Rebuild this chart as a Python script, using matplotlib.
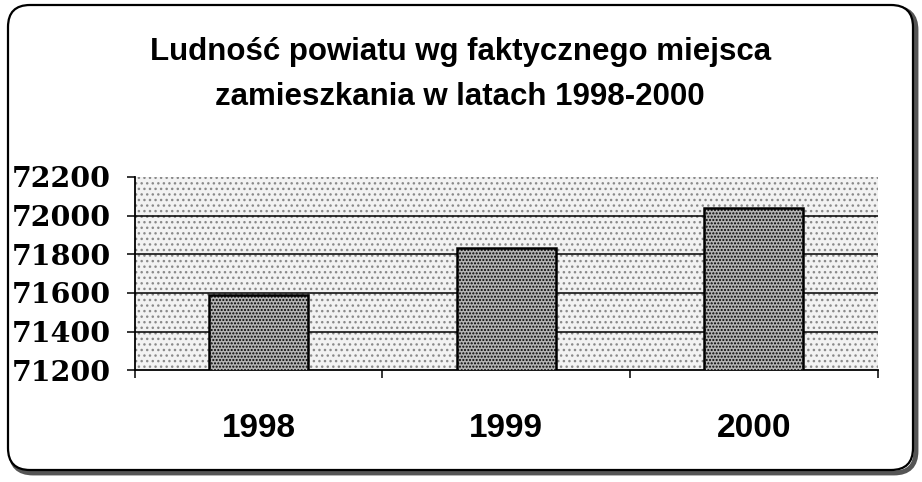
import matplotlib
matplotlib.use("Agg")
import matplotlib.pyplot as plt
from matplotlib.patches import FancyBboxPatch, Rectangle
import numpy as np

# data
years = ['1998', '1999', '2000']
population = [71590, 71830, 72040]
y_ticks = [71200, 71400, 71600, 71800, 72000, 72200]
title = 'Ludność powiatu wg faktycznego miejsca\nzamieszkania w latach 1998-2000'

plt.rcParams['hatch.linewidth'] = 1.0

fig = plt.figure(figsize=(9.22, 4.82), dpi=100)
fig.patch.set_facecolor('white')

# rounded frame around the whole chart (pixel coords)
bg = fig.add_axes([0, 0, 1, 1])
bg.set_xlim(0, 922)
bg.set_ylim(482, 0)
bg.axis('off')
shadow = FancyBboxPatch((11, 8), 905, 465, boxstyle='round,pad=0,rounding_size=22',
                        facecolor='none', edgecolor='#555555', linewidth=3.5)
frame = FancyBboxPatch((8, 5), 905, 465, boxstyle='round,pad=0,rounding_size=22',
                       facecolor='white', edgecolor='black', linewidth=1.6)
bg.add_patch(shadow)
bg.add_patch(frame)

fig.text(0.499, 0.845, title, ha='center', va='center', fontsize=22.5, fontweight='bold',
         family=['Liberation Sans', 'DejaVu Sans'], linespacing=1.66)

ax = fig.add_axes([0.146, 0.232, 0.806, 0.401])
ax.set_facecolor('none')

# stippled plot area
ax.add_patch(Rectangle((0, 0), 1, 1, transform=ax.transAxes, facecolor='#f2f2f2',
                       edgecolor='#8a8a8a', linewidth=0, hatch='...', zorder=0))

x = np.arange(len(years))
ax.bar(x, population, width=0.4, bottom=0, color='#b4b4b4', edgecolor='black',
       linewidth=1.8, hatch='.....', zorder=3)

ax.set_ylim(y_ticks[0], y_ticks[-1])
ax.set_xlim(-0.5, len(years) - 0.5)
ax.set_yticks(y_ticks)
ax.set_yticklabels([str(v) for v in y_ticks], fontsize=20.5, fontweight='bold',
                   family='DejaVu Serif')
for v in y_ticks[1:-1]:
    ax.axhline(v, color='black', linewidth=1.1, zorder=2)

ax.set_xticks(np.arange(len(years) + 1) - 0.5)
ax.set_xticklabels([])
ax.set_xticks(x, minor=True)
ax.set_xticklabels(years, minor=True, fontsize=24, fontweight='bold',
                   family='Liberation Sans')
ax.tick_params(axis='x', which='major', direction='out', length=6, width=1.1)
ax.tick_params(axis='x', which='minor', length=0, pad=31)
ax.tick_params(axis='y', direction='out', length=6, width=1.1, pad=11)

for s in ['top', 'right']:
    ax.spines[s].set_visible(False)
for s in ['left', 'bottom']:
    ax.spines[s].set_linewidth(1.3)

fig.savefig('out.png', dpi=100)
